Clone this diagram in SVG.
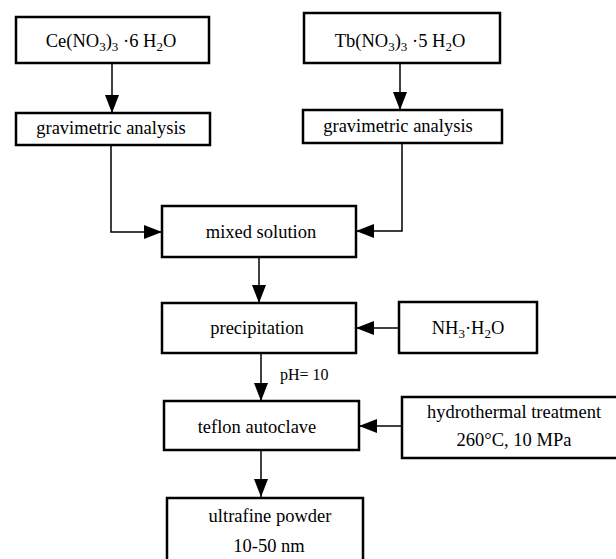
<svg xmlns="http://www.w3.org/2000/svg" width="616" height="559" viewBox="0 0 616 559">
<style>
.box{fill:#fff;stroke:#000;stroke-width:2.5}
.t{font-family:"Liberation Serif","Times New Roman",serif;font-size:18.5px;fill:#000;text-anchor:middle}
.s{font-size:13px}
.c{fill:none;stroke:#000;stroke-width:1.5}
.lbl{font-family:"Liberation Serif","Times New Roman",serif;font-size:16px;fill:#000}
</style>
<defs>
<marker id="ah" viewBox="0 0 18 14" refX="18" refY="7" markerWidth="18" markerHeight="14" markerUnits="userSpaceOnUse" orient="auto">
<path d="M0,0 L18,7 L0,14 Z" fill="#000"/>
</marker>
</defs>
<rect width="616" height="559" fill="#fff"/>
<g id="connectors">
<line class="c" x1="112" y1="63" x2="112" y2="113" marker-end="url(#ah)"/>
<line class="c" x1="400" y1="63" x2="400" y2="110" marker-end="url(#ah)"/>
<polyline class="c" points="111,145 111,232 162,232" marker-end="url(#ah)"/>
<polyline class="c" points="402,143 402,231 356,231" marker-end="url(#ah)"/>
<line class="c" x1="259" y1="257" x2="259" y2="303" marker-end="url(#ah)"/>
<line class="c" x1="399" y1="328" x2="356" y2="328" marker-end="url(#ah)"/>
<line class="c" x1="261" y1="353" x2="261" y2="401" marker-end="url(#ah)"/>
<text class="lbl" x="280" y="380">pH= 10</text>
<line class="c" x1="402" y1="426" x2="359" y2="426" marker-end="url(#ah)"/>
<line class="c" x1="261" y1="450" x2="261" y2="497" marker-end="url(#ah)"/>
</g>
<g id="ce">
<rect class="box" x="16" y="17" width="193" height="46"/>
<text class="t" x="111" y="47">Ce(NO<tspan class="s" dy="4">3</tspan><tspan dy="-4">)</tspan><tspan class="s" dy="4">3</tspan><tspan dy="-4"> ·6 H</tspan><tspan class="s" dy="4">2</tspan><tspan dy="-4">O</tspan></text>
</g>
<g id="tb">
<rect class="box" x="304" y="13" width="196" height="50"/>
<text class="t" x="400" y="47">Tb(NO<tspan class="s" dy="4">3</tspan><tspan dy="-4">)</tspan><tspan class="s" dy="4">3</tspan><tspan dy="-4"> ·5 H</tspan><tspan class="s" dy="4">2</tspan><tspan dy="-4">O</tspan></text>
</g>
<g id="grav1">
<rect class="box" x="16" y="113" width="194" height="32"/>
<text class="t" x="111" y="134">gravimetric analysis</text>
</g>
<g id="grav2">
<rect class="box" x="303" y="110" width="199" height="33"/>
<text class="t" x="398" y="132">gravimetric analysis</text>
</g>
<g id="mixed">
<rect class="box" x="162" y="206" width="194" height="51"/>
<text class="t" x="261" y="238">mixed solution</text>
</g>
<g id="precip">
<rect class="box" x="162" y="303" width="194" height="50"/>
<text class="t" x="257" y="334">precipitation</text>
</g>
<g id="nh3">
<rect class="box" x="399" y="302" width="138" height="51"/>
<text class="t" x="468" y="334">NH<tspan class="s" dy="4">3</tspan><tspan dy="-4">·H</tspan><tspan class="s" dy="4">2</tspan><tspan dy="-4">O</tspan></text>
</g>
<g id="teflon">
<rect class="box" x="164" y="401" width="195" height="49"/>
<text class="t" x="257" y="433">teflon autoclave</text>
</g>
<g id="hydro">
<rect class="box" x="402" y="397" width="216" height="61"/>
<text class="t" x="514" y="418">hydrothermal treatment</text>
<text class="t" x="514" y="446">260°C, 10 MPa</text>
</g>
<g id="ultra">
<rect class="box" x="167" y="498" width="196" height="70"/>
<text class="t" x="270" y="522">ultrafine powder</text>
<text class="t" x="269" y="552">10-50 nm</text>
</g>
</svg>
